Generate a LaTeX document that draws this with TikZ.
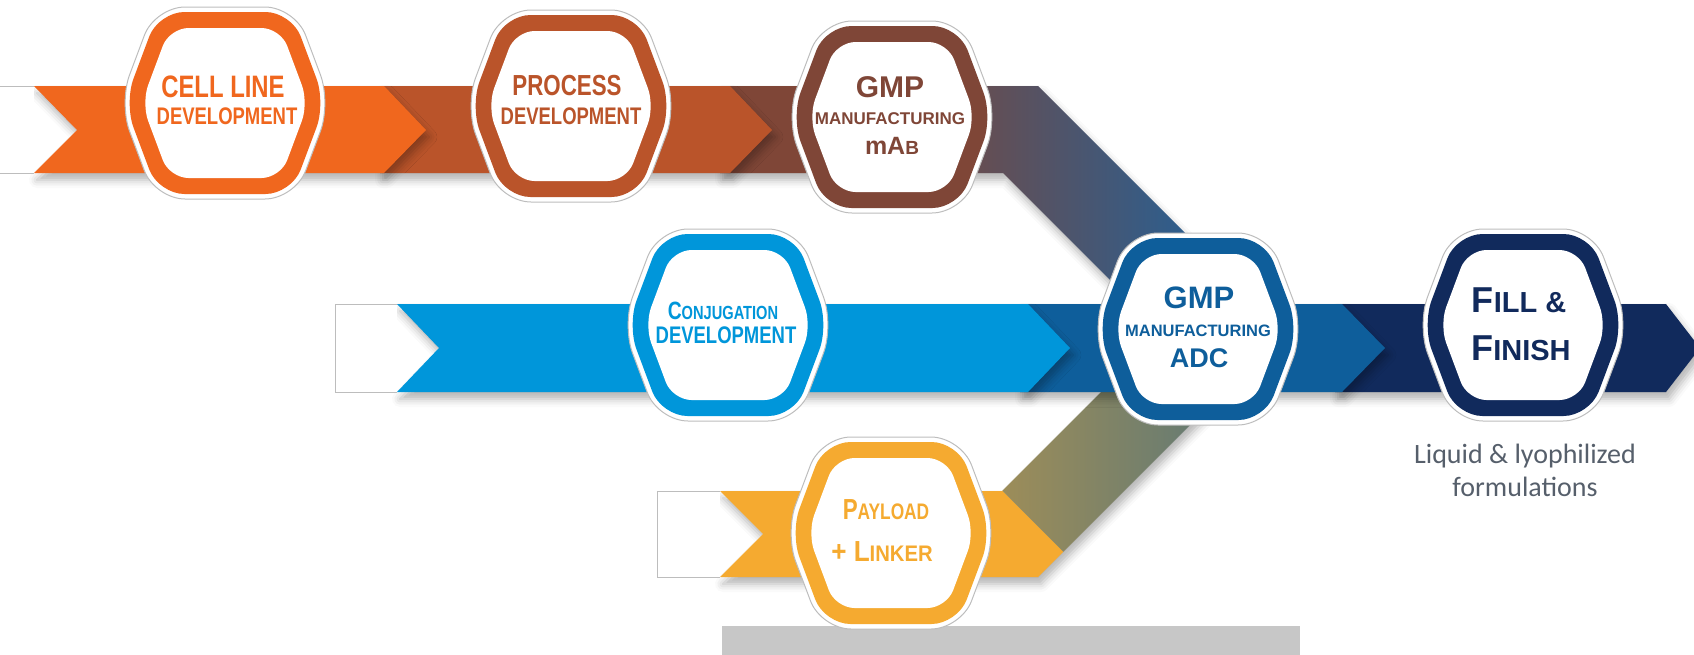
\documentclass[tikz,border=0pt]{standalone}
\usepackage{fontspec}
\setmainfont{Liberation Sans}
\newfontfamily\condf{Liberation Sans}[FakeStretch=0.77]
\newfontfamily\condg{Liberation Sans}[FakeStretch=0.9]
\newfontfamily\capf{Carlito}
\usetikzlibrary{shadows.blur}

\definecolor{cOrange}{HTML}{F0671E}
\definecolor{cProc}{HTML}{BA542A}
\definecolor{cMab}{HTML}{7F4637}
\definecolor{cMabB}{HTML}{2D5E8E}
\definecolor{cConj}{HTML}{0096DA}
\definecolor{cAdc}{HTML}{0E5E9B}
\definecolor{cFill}{HTML}{112A5C}
\definecolor{cPay}{HTML}{F5AA30}
\definecolor{cBar}{HTML}{C7C7C7}
\definecolor{cCap}{HTML}{565F6B}
\definecolor{cEdge}{HTML}{BDBDBD}

\newcommand{\SC}[4]{{\fontsize{#1}{#1}\selectfont #3}{\fontsize{#2}{#2}\selectfont #4}}

\tikzset{
  bandshadow/.style={blur shadow={shadow xshift=3pt, shadow yshift=-7pt, shadow blur radius=8pt, shadow opacity=30}},
  hexp/.style={insert path={(0,{-96+#1}) -- ({70-0.69*#1},{-96+#1}) -- ({106-1.07*#1},0) -- ({70-0.69*#1},{96-#1}) -- ({-70+0.69*#1},{96-#1}) -- ({-106+1.07*#1},0) -- ({-70+0.69*#1},{-96+#1}) -- cycle}},
  tailfill/.style={fill=white},
  tailedge/.style={draw=cEdge, line width=0.8pt},
  lbl/.style={anchor=base, inner sep=0pt, outer sep=0pt},
}

\newcommand{\hexagon}[3]{%
  \begin{scope}[shift={#2}]
    \path[fill=white, draw=cEdge, line width=1pt, rounded corners=30pt] [hexp=0];
    \path[fill=#3, rounded corners=26pt] [hexp=5];
    \path[fill=white, rounded corners=19pt] [hexp=21];
    \coordinate (#1) at (0,0);
  \end{scope}}

\newcommand{\tail}[4]{% x1 y1 x2 y2 : white box, open on its right side
  \fill[tailfill] (#1,#2) rectangle (#3,#4);
  \draw[tailedge] (#3,#2) -- (#1,#2) -- (#1,#4) -- (#3,#4);}

\begin{document}
\begin{tikzpicture}[x=1pt,y=-1pt]
\useasboundingbox (0,0) rectangle (1694,654);
\clip (0,0) rectangle (1694,654);

% ---- row 1: brown band + diagonal to ADC
\path[bandshadow] (720,86) -- (1038,86) -- (1280,328) -- (1158,328) -- (1003,173) -- (720,173) -- cycle;
\begin{scope}
  \clip (720,86) -- (1038,86) -- (1280,328) -- (1158,328) -- (1003,173) -- (720,173) -- cycle;
  \fill[cMab] (700,80) rectangle (880,340);
  \shade[left color=cMab, right color=cMabB] (880,80) rectangle (1190,340);
  \fill[cMabB] (1190,80) rectangle (1300,340);
\end{scope}
\fill[cProc, bandshadow] (380,86) -- (730,86) -- (772,130) -- (730,173) -- (380,173) -- cycle;
\fill[cOrange, bandshadow] (34,86) -- (384,86) -- (426,130) -- (384,173) -- (34,173) -- (77,130) -- cycle;

% ---- row 3: yellow band + diagonal to ADC
\path[bandshadow] (720,491) -- (1002,491) -- (1123,370) -- (1245,370) -- (1038,577) -- (720,577) -- (763,534) -- cycle;
\begin{scope}
  \clip (720,491) -- (1002,491) -- (1123,370) -- (1245,370) -- (1038,577) -- (720,577) -- (763,534) -- cycle;
  \begin{scope}[shift={(1098,452)}, rotate=45]
    \fill[cPay] (-600,-500) rectangle (-95,500);
    \shade[left color=cPay, right color=cAdc] (-95,-500) rectangle (105,500);
    \fill[cAdc] (105,-500) rectangle (600,500);
  \end{scope}
\end{scope}

% ---- row 2
\fill[cFill, bandshadow] (1335,304) -- (1666,304) -- (1700,348) -- (1666,392) -- (1335,392) -- cycle;
\fill[cAdc, bandshadow] (1020,304) -- (1342,304) -- (1385,348) -- (1342,392) -- (1020,392) -- cycle;
\fill[cConj, bandshadow] (397,304) -- (1028,304) -- (1070,348) -- (1028,392) -- (397,392) -- (439,348) -- cycle;

% ---- tails
\tail{-2}{86}{34}{173}
\tail{335}{304}{397}{392}
\tail{657}{491}{720}{577}

% ---- grey bar
\fill[cBar] (722,626) rectangle (1300,656);

% ---- hexagons
\hexagon{hCell}{(225,103)}{cOrange}
\hexagon{hProc}{(571,106)}{cProc}
\hexagon{hMab}{(892,117)}{cMab}
\hexagon{hConj}{(728,325)}{cConj}
\hexagon{hAdc}{(1198,329)}{cAdc}
\hexagon{hFill}{(1523,325)}{cFill}
\hexagon{hPay}{(891,533)}{cPay}

% ---- labels
\node[lbl, text=cOrange, font=\condf\bfseries\fontsize{31}{31}\selectfont] (tCellA) at (223,97) {CELL LINE};
\node[lbl, text=cOrange, font=\condf\bfseries\fontsize{24}{24}\selectfont] (tCellB) at (227,124) {DEVELOPMENT};

\node[lbl, text=cProc, font=\condf\bfseries\fontsize{29}{29}\selectfont] (tProcA) at (567,95) {PROCESS};
\node[lbl, text=cProc, font=\condf\bfseries\fontsize{24}{24}\selectfont] (tProcB) at (571,124) {DEVELOPMENT};

\node[lbl, text=cMab, font=\bfseries\fontsize{30}{30}\selectfont] (tMabA) at (890,97) {GMP};
\node[lbl, text=cMab, font=\bfseries\fontsize{17}{17}\selectfont] (tMabB) at (890,124) {MANUFACTURING};
\node[lbl, text=cMab, font=\bfseries] (tMabC) at (892,154) {\SC{25}{25}{m}{A}{\fontsize{19}{19}\selectfont B}};

\node[lbl, text=cConj, font=\condf\bfseries] (tConjA) at (723,319) {\SC{25}{19}{C}{ONJUGATION}};
\node[lbl, text=cConj, font=\condf\bfseries\fontsize{24}{24}\selectfont] (tConjB) at (726,343) {DEVELOPMENT};

\node[lbl, text=cAdc, font=\bfseries\fontsize{31}{31}\selectfont] (tAdcA) at (1199,308) {GMP};
\node[lbl, text=cAdc, font=\bfseries\fontsize{16.5}{16.5}\selectfont] (tAdcB) at (1198,336) {MANUFACTURING};
\node[lbl, text=cAdc, font=\bfseries\fontsize{27}{27}\selectfont] (tAdcC) at (1199,367) {ADC};

\node[lbl, text=cFill, font=\bfseries] (tFillA) at (1519,312) {\SC{36}{29}{F}{ILL \&}};
\node[lbl, text=cFill, font=\bfseries] (tFillB) at (1521,360) {\SC{36}{29}{F}{INISH}};

\node[lbl, text=cPay, font=\condf\bfseries] (tPayA) at (886,519) {\SC{29}{22.5}{P}{AYLOAD}};
\node[lbl, text=cPay, font=\condg\bfseries] (tPayB) at (882,561) {\SC{29}{22.5}{+ L}{INKER}};

% ---- caption
\node[lbl, text=cCap, font=\capf\fontsize{28}{28}\selectfont] (capA) at (1525,463) {Liquid \& lyophilized};
\node[lbl, text=cCap, font=\capf\fontsize{28}{28}\selectfont] (capB) at (1525,496) {formulations};
\end{tikzpicture}
\end{document}
